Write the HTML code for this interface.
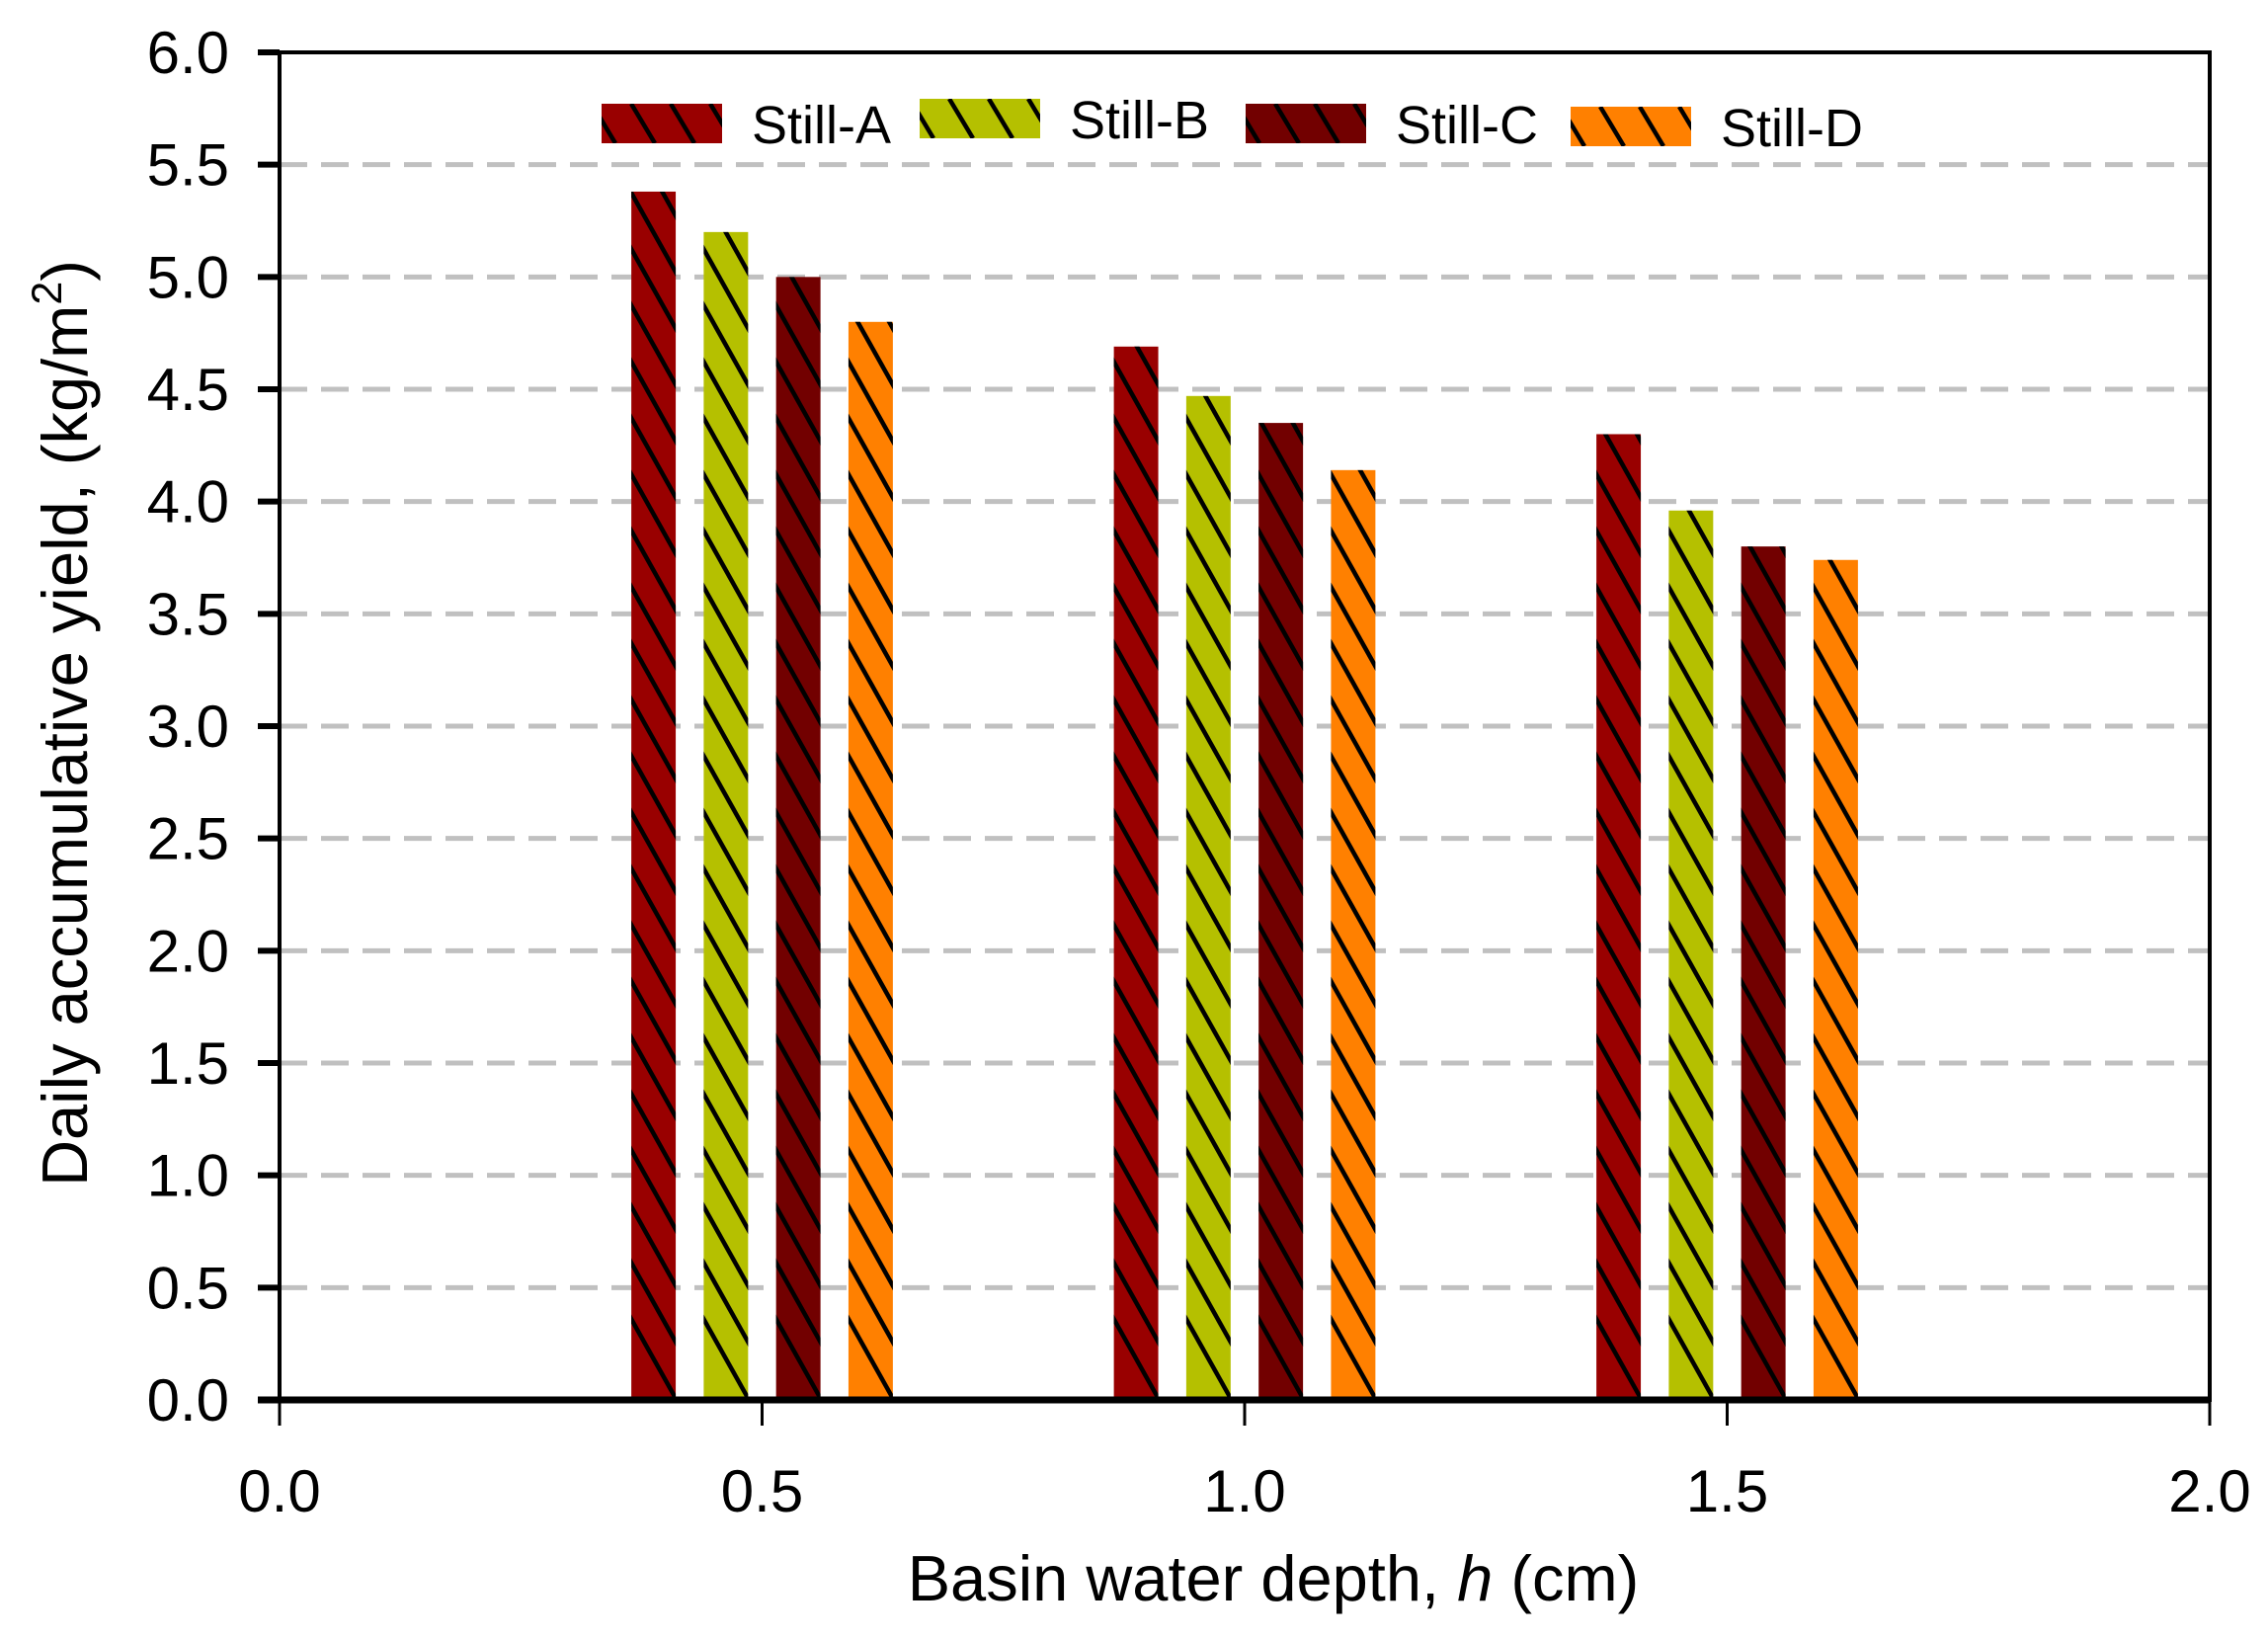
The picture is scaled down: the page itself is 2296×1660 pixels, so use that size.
<!DOCTYPE html>
<html><head><meta charset="utf-8"><style>
html,body{margin:0;padding:0;background:#fff;}
svg text{font-family:"Liberation Sans",sans-serif;fill:#000;}
</style></head><body>
<svg id="chart" width="2296" height="1655" viewBox="0 0 2296 1655" xmlns="http://www.w3.org/2000/svg">
<defs id="defs"></defs>
<g id="grid"></g>
<g id="bars"></g>
<g id="axes"></g>
<g id="legend"></g>
<text x="1289" y="1620" font-size="65" text-anchor="middle">Basin water depth, <tspan font-style="italic">h</tspan> (cm)</text>
<text transform="translate(88,732) rotate(-90)" font-size="65" text-anchor="middle">Daily accumulative yield, (kg/m<tspan dy="-26" font-size="43">2</tspan><tspan dy="26">)</tspan></text>
</svg>
<script>
const categories = [0.5, 1.0, 1.5];
const seriesNames = ["Still-A", "Still-B", "Still-C", "Still-D"];
const seriesColors = ["#990000", "#b5c000", "#720000", "#ff8000"];
const stillA = [5.38, 4.69, 4.30];
const stillB = [5.20, 4.47, 3.96];
const stillC = [5.00, 4.35, 3.80];
const stillD = [4.80, 4.14, 3.74];
const yTicks = ["0.0","0.5","1.0","1.5","2.0","2.5","3.0","3.5","4.0","4.5","5.0","5.5","6.0"];
const xTicks = ["0.0","0.5","1.0","1.5","2.0"];

const NS = "http://www.w3.org/2000/svg";
const L = 283, R = 2237, T = 53, B = 1417;
const xs = v => L + (v - 0) / 2 * (R - L);
const ys = v => B - v / 6 * (B - T);
function mk(tag, attrs, parent) {
  const e = document.createElementNS(NS, tag);
  for (const k in attrs) e.setAttribute(k, attrs[k]);
  parent.appendChild(e);
  return e;
}
const grid = document.getElementById('grid');
const bars = document.getElementById('bars');
const axes = document.getElementById('axes');
const legend = document.getElementById('legend');
const defs = document.getElementById('defs');

yTicks.forEach((t, i) => {
  const v = parseFloat(t), y = ys(v);
  if (v > 0 && v < 6) {
    const g = mk('line', {x1: L, x2: R, y1: y, y2: y, stroke: '#c0c0c0', 'stroke-width': 5, 'stroke-dasharray': '28 14'}, grid);
    
    
  }
  const tk = mk('line', {x1: L - 22, x2: L, y1: y, y2: y, stroke: '#000', 'stroke-width': 6}, axes);
  
  
  const lb = mk('text', {x: 232, y: y + 21, 'font-size': 60, 'text-anchor': 'end'}, axes);
  lb.textContent = t;
  
  
});
xTicks.forEach(t => {
  const x = xs(parseFloat(t));
  const tk = mk('line', {x1: x, x2: x, y1: B, y2: B + 26, stroke: '#000', 'stroke-width': 3}, axes);
  
  
  const lb = mk('text', {x: x, y: 1530, 'font-size': 60, 'text-anchor': 'middle'}, axes);
  lb.textContent = t;
  
  
});

const allSeries = [stillA, stillB, stillC, stillD];
const offsets = [-0.1125, -0.0375, 0.0375, 0.1125];
const bw = 0.046;
let cid = 0;
function hatch(x0, y0, w, h, parent) {
  const id = 'c' + (cid++);
  const cp = mk('clipPath', {id: id}, defs);
  mk('rect', {x: x0, y: y0, width: w, height: h}, cp);
  const g = mk('g', {'clip-path': 'url(#' + id + ')'}, parent);
  for (let y = y0 + h; y > y0 - w * 2.5; y -= 57) {
    mk('line', {x1: x0 - 2, y1: y - w * 1.9, x2: x0 + w + 2, y2: y + 2, stroke: '#000', 'stroke-width': 4.5}, g);
  }
}
allSeries.forEach((vals, s) => {
  vals.forEach((v, i) => {
    const x0 = xs(categories[i] + offsets[s] - bw / 2);
    const w = xs(categories[i] + offsets[s] + bw / 2) - x0;
    const y0 = ys(v), h = B - y0;
    const g = mk('g', {}, bars);
    
    
    mk('rect', {x: x0, y: y0, width: w, height: h, fill: seriesColors[s]}, g);
    hatch(x0, y0, w, h, g);
  });
});

const frame = mk('rect', {x: L, y: T, width: R - L, height: B - T, fill: 'none', stroke: '#000', 'stroke-width': 4}, axes);


const xa = mk('line', {x1: L - 22, x2: R, y1: B, y2: B, stroke: '#000', 'stroke-width': 7}, axes);



const legBoxes = [[609, 105], [931, 100], [1261, 105], [1590, 108]];
seriesNames.forEach((n, s) => {
  const g = mk('g', {}, legend);
  
  
  const [bx, by] = legBoxes[s];
  mk('rect', {x: bx, y: by, width: 122, height: 40, fill: seriesColors[s]}, g);
  const id = 'c' + (cid++);
  const cp = mk('clipPath', {id: id}, defs);
  mk('rect', {x: bx, y: by, width: 122, height: 40}, cp);
  const hg = mk('g', {'clip-path': 'url(#' + id + ')'}, g);
  for (let x = bx - 10; x < bx + 130; x += 40) {
    mk('line', {x1: x, y1: by, x2: x + 24, y2: by + 40, stroke: '#000', 'stroke-width': 4.5}, hg);
  }
  const t = mk('text', {x: bx + 152, y: by + 40, 'font-size': 54}, g);
  t.textContent = n;
});
</script>
</body></html>
